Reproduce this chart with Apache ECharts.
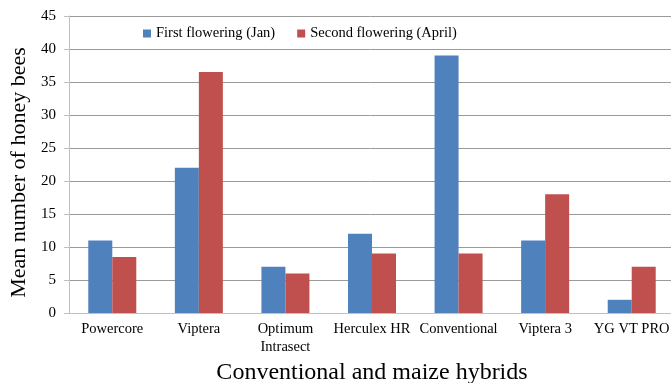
<!DOCTYPE html>
<html>
<head>
<meta charset="utf-8">
<script src="https://cdn.jsdelivr.net/npm/echarts@6/dist/echarts.min.js"></script>
<style>
html, body { margin: 0; padding: 0; background: #fff; }
#main { width: 671px; height: 383px; }
</style>
</head>
<body>
<div id="main"></div>
<script>
const hybrids = ['Powercore', 'Viptera', 'Optimum\nIntrasect', 'Herculex HR', 'Conventional', 'Viptera 3', 'YG VT PRO'];
const firstFlowering = [11, 22, 7, 12, 39, 11, 2];
const secondFlowering = [8.5, 36.5, 6, 9, 9, 18, 7];
const seriesNames = ['First flowering (Jan)', 'Second flowering (April)'];

const font = 'Liberation Serif, Times New Roman, serif';
const chart = echarts.init(document.getElementById('main'));
chart.setOption({
    animation: false,
    textStyle: { fontFamily: font },
    legend: {
        left: 138,
        top: 21,
        itemWidth: 8,
        itemHeight: 8,
        itemGap: 22,
        icon: 'rect',
        textStyle: { fontFamily: font, fontSize: 14.5, color: '#000' },
        data: seriesNames
    },
    grid: { left: 69, right: -4, top: 16, bottom: 70, outerBoundsMode: 'none' },
    xAxis: {
        type: 'category',
        data: hybrids,
        name: 'Conventional and maize hybrids',
        nameLocation: 'middle',
        nameGap: 48,
        nameTextStyle: { fontFamily: font, fontSize: 24, color: '#000' },
        axisLine: { lineStyle: { color: '#c0c0c0' } },
        axisTick: { show: false },
        axisLabel: { fontFamily: font, fontSize: 14.5, color: '#000', margin: 7, interval: 0, lineHeight: 18 }
    },
    yAxis: {
        type: 'value',
        min: 0,
        max: 45,
        interval: 5,
        name: 'Mean number of honey bees',
        nameLocation: 'middle',
        nameGap: 39,
        nameTextStyle: { fontFamily: font, fontSize: 22, color: '#000', padding: [0, 16, 0, 0] },
        axisLine: { show: true, lineStyle: { color: '#c0c0c0' } },
        axisTick: { show: true, length: 5, lineStyle: { color: '#c0c0c0' } },
        axisLabel: { fontFamily: font, fontSize: 15, color: '#000', margin: 13 },
        splitLine: { lineStyle: { color: '#9a9a9a' } }
    },
    series: [
        {
            name: seriesNames[0],
            type: 'bar',
            data: firstFlowering,
            barWidth: 24,
            barGap: '0%',
            itemStyle: { color: '#4f81bd' }
        },
        {
            name: seriesNames[1],
            type: 'bar',
            data: secondFlowering,
            barWidth: 24,
            itemStyle: { color: '#c0504d' }
        }
    ]
});
</script>
</body>
</html>
